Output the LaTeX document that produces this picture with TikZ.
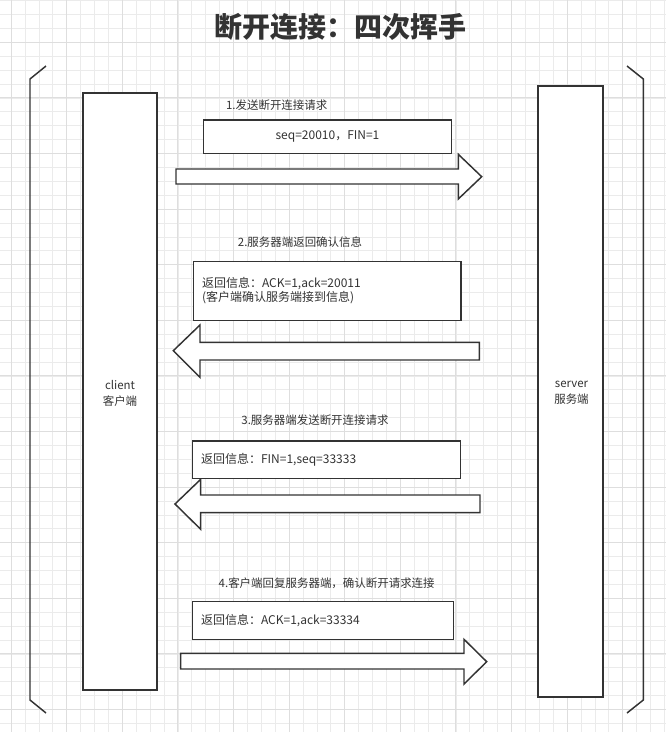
\documentclass[tikz,border=0pt]{standalone}
\usepackage{fontspec}
\setmainfont{Noto Sans CJK SC}
\usetikzlibrary{fit}
\definecolor{lc}{HTML}{333333}
\definecolor{gridminor}{HTML}{EBEBEB}
\definecolor{gridmajor}{HTML}{DEDEDE}
\tikzset{
  ln/.style={draw=lc, line width=1.1pt, line join=miter},
  boxst/.style={ln, fill=white, inner sep=0pt},
  blockarrow/.style={ln, fill=white},
  lbl/.style={text=lc, font=\fontsize{8.6}{11}\selectfont, inner sep=0pt},
  boxtxt/.style={text=lc, font=\fontsize{9}{10.7}\selectfont, inner sep=0pt, align=left},
  sidetxt/.style={text=lc, font=\fontsize{8.6}{12}\selectfont, inner sep=0pt, align=center},
}
\begin{document}
\begin{tikzpicture}[x=0.75pt, y=-0.75pt]
\useasboundingbox (0,0) rectangle (666,732);
\fill[white] (0,0) rectangle (666,732);
% grid
\foreach \i in {0,...,47} {
  \pgfmathsetmacro{\xx}{11.1+13.9*\i}
  \draw[gridminor, line width=0.6pt] (\xx,0) -- (\xx,732);
}
\foreach \i in {0,...,52} {
  \pgfmathsetmacro{\yy}{0.6+13.9*\i}
  \draw[gridminor, line width=0.6pt] (0,\yy) -- (666,\yy);
}
\foreach \i in {0,...,11} {
  \pgfmathsetmacro{\xx}{11.1+55.6*\i}
  \draw[gridmajor, line width=0.75pt] (\xx,0) -- (\xx,732);
}
\foreach \i in {0,...,12} {
  \pgfmathsetmacro{\yy}{42.3+55.6*\i}
  \draw[gridmajor, line width=0.75pt] (0,\yy) -- (666,\yy);
}

% title
\node[text=lc, font=\fontsize{21}{24}\selectfont\bfseries, inner sep=0pt] (title) at (340,27) {断开连接：四次挥手};

% brackets
\draw[ln] (46,66) -- (30,79) -- (30,700) -- (46,713);
\draw[ln] (627,66) -- (643.3,79) -- (643.3,700) -- (627,713);

% client / server
\node[boxst, fit={(83,93)(157,690)}] (client) {};
\node[sidetxt] (clientlbl) at (120,393) {client\\客户端};
\node[boxst, fit={(538,86)(603,697)}] (server) {};
\node[sidetxt] (serverlbl) at (571.5,393) {server\\服务端};

% step 1
\node[lbl] (l1) at (276.7,105) {1.发送断开连接请求};
\node[boxst, fit={(203.3,120)(451.7,153.3)}] (b1) {};
\node[boxtxt] (t1) at (b1.center) {seq=20010，FIN=1};
\draw[blockarrow] (176,169) -- (458.3,169) -- (458.3,154.3) -- (481.7,176.7) -- (458.3,199) -- (458.3,184) -- (176,184) -- cycle;

% step 2
\node[lbl] (l2) at (300,242.3) {2.服务器端返回确认信息};
\node[boxst, fit={(193.3,261.7)(461,320.7)}] (b2) {};
\node[boxtxt, anchor=west] (t2) at ([xshift=6.9pt,yshift=0.3pt]b2.west) {返回信息：ACK=1,ack=20011\\(客户端确认服务端接到信息)};
\draw[blockarrow] (479.3,342.3) -- (200,342.3) -- (200,325) -- (173.3,350.7) -- (200,377.3) -- (200,360) -- (479.3,360) -- cycle;

% step 3
\node[lbl] (l3) at (315,420) {3.服务器端发送断开连接请求};
\draw[blockarrow] (480,495) -- (200.7,495) -- (200.7,479.3) -- (175,504) -- (200.7,529.3) -- (200.7,512.7) -- (480,512.7) -- cycle;
\node[boxst, fit={(192.3,441)(460.7,478.3)}] (b3) {};
\node[boxtxt, anchor=west] (t3) at ([xshift=6.9pt]b3.west) {返回信息：FIN=1,seq=33333};

% step 4
\node[lbl] (l4) at (326.7,583.3) {4.客户端回复服务器端，确认断开请求连接};
\node[boxst, fit={(192.3,601.7)(453.3,639.3)}] (b4) {};
\node[boxtxt, anchor=west] (t4) at ([xshift=6.9pt]b4.west) {返回信息：ACK=1,ack=33334};
\draw[blockarrow] (180.7,653.3) -- (464,653.3) -- (464,639.3) -- (486.7,661.7) -- (464,684) -- (464,669) -- (180.7,669) -- cycle;
\end{tikzpicture}
\end{document}
